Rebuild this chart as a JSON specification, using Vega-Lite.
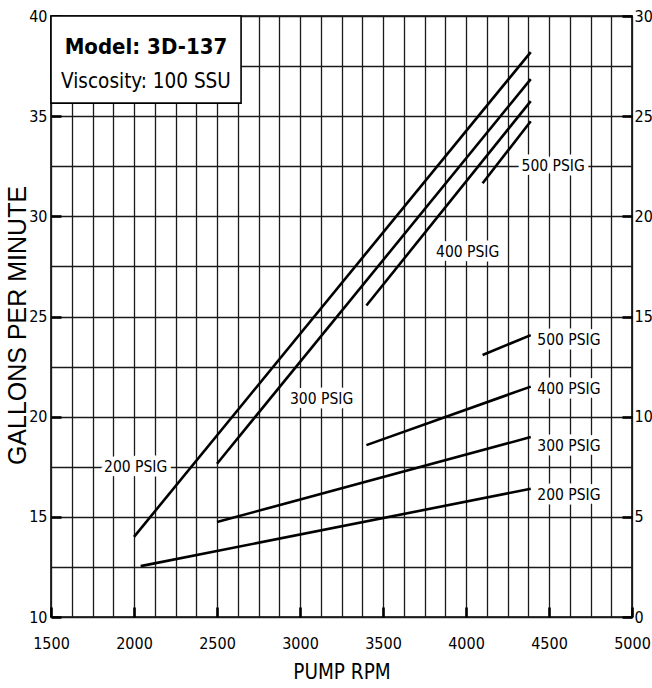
{
  "$schema": "https://vega.github.io/schema/vega-lite/v6.json",
  "width": 581,
  "height": 601,
  "autosize": {"type": "none"},
  "padding": {"left": 51, "top": 16, "right": 20, "bottom": 71},
  "background": "white",
  "config": {
    "view": {"stroke": "black", "strokeWidth": 1.6},
    "axis": {
      "domain": false,
      "labelFont": "DejaVu Sans Condensed, sans-serif",
      "labelFontSize": 16,
      "labelColor": "black",
      "tickColor": "black",
      "tickWidth": 2.6,
      "tickSize": -10,
      "gridColor": "#1a1a1a",
      "gridWidth": 1.3,
      "gridOpacity": 1,
      "labelFlush": false,
      "labelOverlap": false,
      "titleColor": "black",
      "titleFontWeight": "normal"
    }
  },
  "datasets": {
    "gpm": [
      {"series": "200 PSIG", "rpm": 2000, "gpm": 14.0},
      {"series": "200 PSIG", "rpm": 4390, "gpm": 38.2},
      {"series": "300 PSIG", "rpm": 2500, "gpm": 17.65},
      {"series": "300 PSIG", "rpm": 4390, "gpm": 36.85},
      {"series": "400 PSIG", "rpm": 3400, "gpm": 25.55},
      {"series": "400 PSIG", "rpm": 4390, "gpm": 35.75},
      {"series": "500 PSIG", "rpm": 4100, "gpm": 31.65},
      {"series": "500 PSIG", "rpm": 4390, "gpm": 34.75}
    ],
    "hp": [
      {"series": "200 PSIG", "rpm": 2040, "hp": 2.54},
      {"series": "200 PSIG", "rpm": 4390, "hp": 6.4},
      {"series": "300 PSIG", "rpm": 2500, "hp": 4.74},
      {"series": "300 PSIG", "rpm": 4390, "hp": 8.98},
      {"series": "400 PSIG", "rpm": 3400, "hp": 8.58},
      {"series": "400 PSIG", "rpm": 4390, "hp": 11.5},
      {"series": "500 PSIG", "rpm": 4100, "hp": 13.08},
      {"series": "500 PSIG", "rpm": 4390, "hp": 14.07}
    ],
    "gpmLabels": [
      {"label": "200 PSIG", "rpm": 2010, "gpm": 17.5},
      {"label": "300 PSIG", "rpm": 3130, "gpm": 20.9},
      {"label": "400 PSIG", "rpm": 4010, "gpm": 28.2},
      {"label": "500 PSIG", "rpm": 4525, "gpm": 32.5}
    ],
    "hpLabels": [
      {"label": "500 PSIG", "rpm": 4620, "hp": 13.82},
      {"label": "400 PSIG", "rpm": 4620, "hp": 11.38},
      {"label": "300 PSIG", "rpm": 4620, "hp": 8.53},
      {"label": "200 PSIG", "rpm": 4620, "hp": 6.09}
    ],
    "box": [
      {"rpm": 1500, "rpm2": 2645, "gpm": 35.65, "gpm2": 40}
    ]
  },
  "encoding": {
    "x": {
      "field": "rpm", "type": "quantitative",
      "scale": {"domain": [1500, 5000], "nice": false, "zero": false},
      "axis": {
        "values": [1500, 1625, 1750, 1875, 2000, 2125, 2250, 2375, 2500, 2625, 2750, 2875, 3000, 3125, 3250, 3375, 3500, 3625, 3750, 3875, 4000, 4125, 4250, 4375, 4500, 4625, 4750, 4875, 5000],
        "grid": true,
        "labelExpr": "datum.value % 500 === 0 ? datum.label : ''",
        "format": "d",
        "tickOpacity": {"condition": {"test": "datum.value % 500 === 0", "value": 1}, "value": 0},
        "labelPadding": 28,
        "title": "PUMP RPM",
        "titleFont": "DejaVu Sans Condensed, sans-serif",
        "titleFontSize": 20.5,
        "titlePadding": 11
      }
    }
  },
  "layer": [
    {
      "encoding": {
        "y": {
          "field": "gpm", "type": "quantitative",
          "scale": {"domain": [10, 40], "nice": false, "zero": false},
          "axis": {
            "values": [10, 12.5, 15, 17.5, 20, 22.5, 25, 27.5, 30, 32.5, 35, 37.5, 40],
            "grid": true,
            "labelExpr": "datum.value % 5 === 0 ? datum.label : ''",
            "tickOpacity": {"condition": {"test": "datum.value % 5 === 0", "value": 1}, "value": 0},
            "labelPadding": 14,
            "title": "GALLONS PER MINUTE",
            "titleFont": "Liberation Sans, Arial, sans-serif",
            "titleFontSize": 25,
            "titlePadding": -2,
            "titleY": 309
          }
        }
      },
      "layer": [
        {
          "data": {"name": "gpm"},
          "mark": {"type": "line", "color": "black", "strokeWidth": 2.6, "strokeCap": "butt"},
          "encoding": {"detail": {"field": "series"}}
        },
        {
          "data": {"name": "box"},
          "mark": {"type": "rect", "fill": "white", "stroke": "black", "strokeWidth": 1.6},
          "encoding": {
            "x2": {"field": "rpm2"},
            "y2": {"field": "gpm2"}
          }
        },
        {
          "data": {"values": [{"text": "Model: 3D-137", "rpm": 2072, "gpm": 38.1}]},
          "mark": {"type": "text", "font": "DejaVu Sans Condensed, sans-serif", "fontWeight": "bold", "fontSize": 22, "align": "center", "baseline": "alphabetic", "color": "black"},
          "encoding": {"text": {"field": "text"}}
        },
        {
          "data": {"values": [{"text": "Viscosity: 100 SSU", "rpm": 2072, "gpm": 36.4}]},
          "mark": {"type": "text", "font": "DejaVu Sans Condensed, sans-serif", "fontSize": 20.5, "align": "center", "baseline": "alphabetic", "color": "black"},
          "encoding": {"text": {"field": "text"}}
        },
        {
          "data": {"name": "gpmLabels"},
          "mark": {"type": "text", "font": "DejaVu Sans Condensed, sans-serif", "fontSize": 15.5, "align": "center", "baseline": "middle", "stroke": "white", "strokeWidth": 9, "strokeJoin": "round", "fill": "white"},
          "encoding": {"text": {"field": "label"}}
        },
        {
          "data": {"name": "gpmLabels"},
          "mark": {"type": "text", "font": "DejaVu Sans Condensed, sans-serif", "fontSize": 15.5, "align": "center", "baseline": "middle", "color": "black"},
          "encoding": {"text": {"field": "label"}}
        }
      ]
    },
    {
      "encoding": {
        "y": {
          "field": "hp", "type": "quantitative",
          "scale": {"domain": [0, 30], "nice": false, "zero": false},
          "axis": {
            "orient": "right",
            "values": [0, 5, 10, 15, 20, 25, 30],
            "grid": false,
            "labelPadding": 12,
            "title": null
          }
        }
      },
      "layer": [
        {
          "data": {"name": "hp"},
          "mark": {"type": "line", "color": "black", "strokeWidth": 2.6, "strokeCap": "butt"},
          "encoding": {"detail": {"field": "series"}}
        },
        {
          "data": {"name": "hpLabels"},
          "mark": {"type": "text", "font": "DejaVu Sans Condensed, sans-serif", "fontSize": 15.5, "align": "center", "baseline": "middle", "stroke": "white", "strokeWidth": 9, "strokeJoin": "round", "fill": "white"},
          "encoding": {"text": {"field": "label"}}
        },
        {
          "data": {"name": "hpLabels"},
          "mark": {"type": "text", "font": "DejaVu Sans Condensed, sans-serif", "fontSize": 15.5, "align": "center", "baseline": "middle", "color": "black"},
          "encoding": {"text": {"field": "label"}}
        }
      ]
    }
  ],
  "resolve": {"scale": {"y": "independent"}}
}
